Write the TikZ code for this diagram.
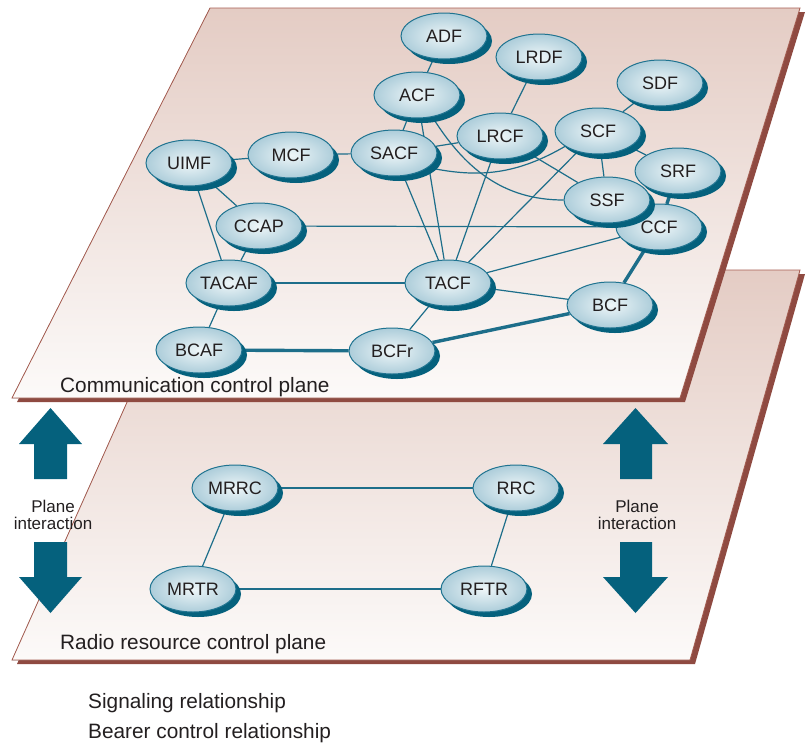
\documentclass[tikz,border=0pt]{standalone}
\usepackage{fontspec}
\setmainfont{Liberation Sans}
\usetikzlibrary{shapes.geometric,shadows}

\definecolor{plbrown}{HTML}{8F4A41}
\definecolor{plline}{HTML}{A65D51}
\definecolor{pltop}{HTML}{E4CCC4}
\definecolor{plbot}{HTML}{FCFAF9}
\definecolor{wire}{HTML}{1D6E8A}
\definecolor{shad}{HTML}{05617D}
\definecolor{nodeline}{HTML}{1F7390}
\definecolor{nodein}{HTML}{EEF6F8}
\definecolor{nodeout}{HTML}{ADCDDA}
\definecolor{txt}{HTML}{231F20}

\pgfdeclarelayer{planes}
\pgfdeclarelayer{wires}
\pgfsetlayers{planes,wires,main}

\begin{document}
\begin{tikzpicture}[x=1pt,y=-1pt,
  fn/.style={ellipse, draw=nodeline, line width=1pt,
    inner color=nodein, outer color=nodeout,
    minimum width=86pt, minimum height=46pt, inner sep=0pt,
    font=\fontsize{18}{18}\selectfont, text=txt,
    drop shadow={shadow xshift=5pt, shadow yshift=-5pt, fill=shad, opacity=1}},
  sig/.style={draw=wire, line width=1.2pt},
  bearer/.style={draw=wire, line width=3.4pt},
  plabel/.style={anchor=base west, font=\fontsize{20.8}{21}\selectfont, text=txt, inner sep=0pt},
  pint/.style={align=center, font=\fontsize{17}{17}\selectfont, text=txt, inner sep=0pt},
  bigarrow/.style={fill=shad}]
\useasboundingbox (0,0) rectangle (805,745);

% ---- the two planes, lower one first ----
\begin{pgfonlayer}{planes}
  \fill[plbrown, shift={(5,4)}] (186,270) -- (800,270) -- (690,660) -- (12,660) -- cycle;
  \fill[top color=pltop, bottom color=plbot, draw=plline, line width=0.8pt]
    (186,270) -- (800,270) -- (690,660) -- (12,660) -- cycle;
  \fill[plbrown, shift={(5,4)}] (210,8) -- (800,8) -- (680,398) -- (12,398) -- cycle;
  \fill[top color=pltop, bottom color=plbot, draw=plline, line width=0.8pt]
    (210,8) -- (800,8) -- (680,398) -- (12,398) -- cycle;
\end{pgfonlayer}

% ---- communication control plane functions ----
\node[fn] (ADF)   at (444,36)  {ADF};
\node[fn] (LRDF)  at (539,57)  {LRDF};
\node[fn] (SDF)   at (660,83)  {SDF};
\node[fn] (ACF)   at (417,95)  {ACF};
\node[fn] (LRCF)  at (500,136) {LRCF};
\node[fn] (SCF)   at (598,131) {SCF};
\node[fn] (SACF)  at (394,153) {SACF};
\node[fn] (SRF)   at (678,171) {SRF};
\node[fn] (UIMF)  at (189,163) {UIMF};
\node[fn] (MCF)   at (291,155) {MCF};
\node[fn] (CCF)   at (659,227) {CCF};
\node[fn] (SSF)   at (607,200) {SSF};
\node[fn] (CCAP)  at (259,226) {CCAP};
\node[fn] (TACAF) at (229,283) {TACAF};
\node[fn] (TACF)  at (448,283) {TACF};
\node[fn] (BCF)   at (610,305) {BCF};
\node[fn] (BCAF)  at (199,350) {BCAF};
\node[fn] (BCFr)  at (392,351) {BCFr};

% ---- radio resource control plane functions ----
\node[fn] (MRRC) at (235,488) {MRRC};
\node[fn] (RRC)  at (516,488) {RRC};
\node[fn] (MRTR) at (193,589) {MRTR};
\node[fn] (RFTR) at (484,589) {RFTR};

% ---- relationships ----
\begin{pgfonlayer}{wires}
  \draw[sig] (ADF) -- (ACF);
  \draw[sig] (ACF) -- (SACF);
  \draw[sig] (LRDF) -- (LRCF);
  \draw[sig] (SDF) -- (SCF);
  \draw[sig] (SCF) -- (SSF);
  \draw[sig] (SCF) -- (SRF);
  \draw[sig] (LRCF) -- (SSF);
  \draw[sig] (SACF) -- (LRCF);
  \draw[sig] (UIMF) -- (MCF);
  \draw[sig] (MCF) -- (SACF);
  \draw[sig] (UIMF) -- (CCAP);
  \draw[sig] (UIMF) -- (TACAF);
  \draw[sig] (CCAP) -- (TACAF);
  \draw[sig] (CCAP) -- (CCF);
  \draw[sig] (TACAF) -- (TACF);
  \draw[sig] (TACAF) -- (BCAF);
  \draw[sig] (SACF) -- (TACF);
  \draw[sig] (ACF) -- (TACF);
  \draw[sig] (LRCF) -- (TACF);
  \draw[sig] (SCF) -- (TACF);
  \draw[sig] (CCF) -- (TACF);
  \draw[sig] (TACF) -- (BCF);
  \draw[sig] (TACF) -- (BCFr);
  \draw[sig] (SACF.-23) to[out=-12,in=-150] (SCF.-155);
  \draw[sig] (ACF.-55) to[out=-58,in=180] (SSF.180);
  \draw[bearer] (BCAF) -- (BCFr);
  \draw[bearer] (BCFr) -- (BCF);
  \draw[bearer] (BCF) -- (CCF);
  \draw[bearer] (SRF) -- (CCF);
  \draw[sig] (MRRC) -- (RRC);
  \draw[sig] (MRRC) -- (MRTR);
  \draw[sig] (RRC) -- (RFTR);
  \draw[sig] (MRTR) -- (RFTR);
\end{pgfonlayer}

% ---- plane interaction arrows ----
\fill[bigarrow] (34,479) -- (34,444) -- (19,444) -- (50.5,408) -- (82,444) -- (67,444) -- (67,479) -- cycle;
\fill[bigarrow] (34,542) -- (34,577) -- (19,577) -- (50.5,613) -- (82,577) -- (67,577) -- (67,542) -- cycle;
\fill[bigarrow] (620,479) -- (620,444) -- (603,444) -- (635.5,408) -- (668,444) -- (652,444) -- (652,479) -- cycle;
\fill[bigarrow] (620,542) -- (620,577) -- (603,577) -- (635.5,613) -- (668,577) -- (652,577) -- (652,542) -- cycle;
\node[pint] (pil) at (53,515) {Plane\\interaction};
\node[pint] (pir) at (637,515) {Plane\\interaction};

% ---- plane names and legend ----
\node[plabel] (ccp) at (60,392) {Communication control plane};
\node[plabel] (rcp) at (60,649) {Radio resource control plane};
\node[plabel] (lg1) at (88,708) {Signaling relationship};
\node[plabel] (lg2) at (88,738) {Bearer control relationship};
\end{tikzpicture}
\end{document}
